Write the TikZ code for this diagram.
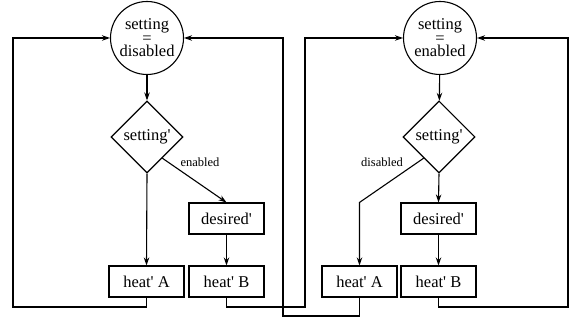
\documentclass[tikz,border=0pt]{standalone}
\usepackage{fontspec}
\setmainfont{Liberation Serif}
\usetikzlibrary{shapes.geometric,arrows.meta,calc}
\newcommand{\pr}{\textquotesingle}
\begin{document}
\begin{tikzpicture}[x=1pt,y=-1pt,line width=1.1pt,
  >={Stealth[length=8pt,width=5.5pt]},
  state/.style={circle,draw,minimum size=73pt,inner sep=0pt,align=center,
    font=\fontsize{16.5}{13.5}\selectfont},
  test/.style={diamond,draw,minimum width=72pt,minimum height=72pt,inner sep=0pt,
    font=\fontsize{16.5}{18}\selectfont},
  act/.style={rectangle,draw,minimum width=75pt,minimum height=31pt,inner sep=0pt,
    font=\fontsize{16.5}{18}\selectfont},
  lbl/.style={font=\fontsize{12.5}{14}\selectfont,inner sep=0pt}]
\useasboundingbox (0,0) rectangle (573,320);

% left half: setting = disabled
\node[state] (c1) at (147,38) {setting\\=\\disabled};
\node[test] (d1) at (147,137) {setting\pr};
\node[act] (ds1) at (226.5,218.5) {desired\pr};
\node[act] (hA1) at (146.5,281.5) {heat\pr{} A};
\node[act] (hB1) at (226.5,281.5) {heat\pr{} B};

% right half: setting = enabled
\node[state] (c2) at (440,38) {setting\\=\\enabled};
\node[test] (d2) at (439,137) {setting\pr};
\node[act] (ds2) at (438.5,218.5) {desired\pr};
\node[act] (hA2) at (359.5,281.5) {heat\pr{} A};
\node[act] (hB2) at (438.5,281.5) {heat\pr{} B};

% branch start points on the diamond edges
\coordinate (e1) at ($(d1.east)!0.58!(d1.south)$);
\coordinate (e2) at ($(d2.west)!0.58!(d2.south)$);

% corners of the return loops
\coordinate (l1) at (13,307);
\coordinate (l2) at (305,307);
\coordinate (l3) at (283,316);
\coordinate (l4) at (568,307);

% flow inside each half
\draw[->] (c1) -- (d1);
\draw[->] (d1.south) -- (hA1.north);
\draw[->] (e1) -- (ds1.north);
\draw[->] (ds1) -- (hB1);
\node[lbl] at (200,162) {enabled};

\draw[->] (c2) -- (d2);
\draw[->] (d2.south) -- (ds2.north);
\draw[->] (ds2) -- (hB2);
\draw[->] (e2) -- (hA2.north |- ds2.north) -- (hA2.north);
\node[lbl] at (382,162) {disabled};

% return loops back to the states
\draw[->] (hA1.south) |- (l1) |- (c1.west);
\draw[->] (hB1.south) |- (l2) |- (c2.west);
\draw[->] (hA2.south) |- (l3) |- (c1.east);
\draw[->] (hB2.south) |- (l4) |- (c2.east);
\end{tikzpicture}
\end{document}
